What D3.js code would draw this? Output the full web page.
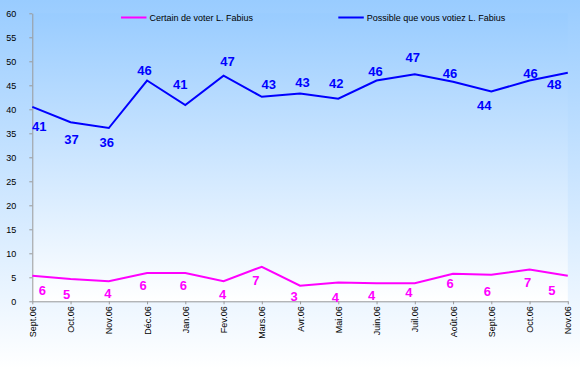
<!DOCTYPE html>
<html>
<head>
<meta charset="utf-8">
<script src="https://cdn.jsdelivr.net/npm/d3@7"></script>
<style>
  html, body { margin: 0; padding: 0; background: #fff; }
  svg { display: block; }
</style>
</head>
<body>
<svg id="chart" width="580" height="369"></svg>
<script>
// ---- data ----
const categories = ["Sept.06","Oct.06","Nov.06","Déc.06","Jan.06","Fev.06","Mars.06","Avr.06","Mai.06","Juin.06","Juil.06","Août.06","Sept.06","Oct.06","Nov.06"];
const certainValues  = [5.3, 4.65, 4.2, 5.9, 5.9, 4.2, 7.2, 3.25, 3.9, 3.75, 3.75, 5.75, 5.55, 6.6, 5.3];
const certainLabels  = [6, 5, 4, 6, 6, 4, 7, 3, 4, 4, 4, 6, 6, 7, 5];
const possibleValues = [40.5, 37.3, 36.1, 46.0, 40.9, 47.0, 42.6, 43.3, 42.2, 46.0, 47.3, 45.75, 43.7, 46.0, 47.6];
const possibleLabels = [41, 37, 36, 46, 41, 47, 43, 43, 42, 46, 47, 46, 44, 46, 48];
const yTicks = [0, 5, 10, 15, 20, 25, 30, 35, 40, 45, 50, 55, 60];
const seriesNames = ["Certain de voter L. Fabius", "Possible que vous votiez L. Fabius"];

// ---- label placement (layout, px offsets from each point) ----
const certainLabelOffsets = [[10,14],[-4,15],[-1,12],[-4,12],[-2,12],[-1,13],[-6,14],[-6,11],[-3,15],[-5,12],[-6,9],[-3,10],[-4,17],[-2,13],[-16,14]];
const possibleLabelOffsets = [[7,19.5],[1,17],[-2,14],[-2.5,-10],[-5,-21],[4,-14],[7,-13],[2.5,-11],[-2,-15],[-1,-9],[-2,-17],[-3,-8],[-7,14],[1,-7],[-13.5,11.5]];

const W = 580, H = 369;
const plot = { left: 32.3, right: 567.8, top: 13.3, bottom: 301.3 };
const font = "'Liberation Sans', Arial, sans-serif";
const svg = d3.select("#chart");

// backgrounds
const defs = svg.append("defs");
const gOuter = defs.append("linearGradient").attr("id", "gOuter").attr("x1", 0).attr("y1", 0).attr("x2", 0).attr("y2", 1);
gOuter.append("stop").attr("offset", "0%").attr("stop-color", "#99ccff");
gOuter.append("stop").attr("offset", "100%").attr("stop-color", "#ffffff");
const gPlot = defs.append("linearGradient").attr("id", "gPlot").attr("x1", 0).attr("y1", 0).attr("x2", 0).attr("y2", 1);
gPlot.append("stop").attr("offset", "0%").attr("stop-color", "#99ccff");
gPlot.append("stop").attr("offset", "100%").attr("stop-color", "#ffffff");

svg.append("rect").attr("x", 0).attr("y", 0).attr("width", W).attr("height", H).attr("fill", "url(#gOuter)");
svg.append("rect").attr("x", plot.left).attr("y", plot.top)
  .attr("width", plot.right - plot.left).attr("height", plot.bottom - plot.top)
  .attr("fill", "url(#gPlot)");

// scales
const x = d3.scalePoint().domain(d3.range(categories.length)).range([plot.left, plot.right]);
const y = d3.scaleLinear().domain([0, 60]).range([plot.bottom, plot.top]);

// y axis
const yAxis = svg.append("g").attr("transform", `translate(${plot.left},0)`)
  .call(d3.axisLeft(y).tickValues(yTicks).tickSize(3).tickPadding(13).tickSizeOuter(0));
yAxis.selectAll("path, line").attr("stroke", "#999999");
yAxis.selectAll("text").attr("font-family", font).attr("font-size", 9).attr("fill", "#000");

// x axis
const xAxis = svg.append("g").attr("transform", `translate(0,${plot.bottom})`)
  .call(d3.axisBottom(x).tickSize(3).tickSizeOuter(0).tickFormat(i => categories[i]));
xAxis.selectAll("path, line").attr("stroke", "#999999");
xAxis.selectAll("text")
  .attr("font-family", font).attr("font-size", 9).attr("fill", "#000")
  .attr("text-anchor", "end")
  .attr("transform", "rotate(-90)")
  .attr("x", -5).attr("y", 0).attr("dy", "0.35em");

// lines
const line = d3.line().x((d, i) => x(i)).y(d => y(d));
svg.append("path").datum(certainValues).attr("d", line)
  .attr("fill", "none").attr("stroke", "#ff00ff").attr("stroke-width", 2);
svg.append("path").datum(possibleValues).attr("d", line)
  .attr("fill", "none").attr("stroke", "#0000ff").attr("stroke-width", 2);

// data labels
function labels(values, texts, offsets, color) {
  svg.append("g").selectAll("text").data(values).join("text")
    .attr("x", (d, i) => x(i) + offsets[i][0])
    .attr("y", (d, i) => y(d) + offsets[i][1])
    .attr("dy", "0.36em")
    .attr("text-anchor", "middle")
    .attr("font-family", font).attr("font-size", 13).attr("font-weight", "bold")
    .attr("fill", color)
    .text((d, i) => texts[i]);
}
labels(certainValues, certainLabels, certainLabelOffsets, "#ff00ff");
labels(possibleValues, possibleLabels, possibleLabelOffsets, "#0000ff");

// legend
const legend = [
  { name: seriesNames[0], color: "#ff00ff", x0: 121 },
  { name: seriesNames[1], color: "#0000ff", x0: 338.3 }
];
const lg = svg.append("g");
legend.forEach(l => {
  lg.append("line").attr("x1", l.x0).attr("x2", l.x0 + 25.5).attr("y1", 17.5).attr("y2", 17.5)
    .attr("stroke", l.color).attr("stroke-width", 2);
  lg.append("text").attr("x", l.x0 + 28.5).attr("y", 17.5).attr("dy", "0.35em")
    .attr("font-family", font).attr("font-size", 9).attr("fill", "#000").text(l.name);
});
</script>
</body>
</html>
